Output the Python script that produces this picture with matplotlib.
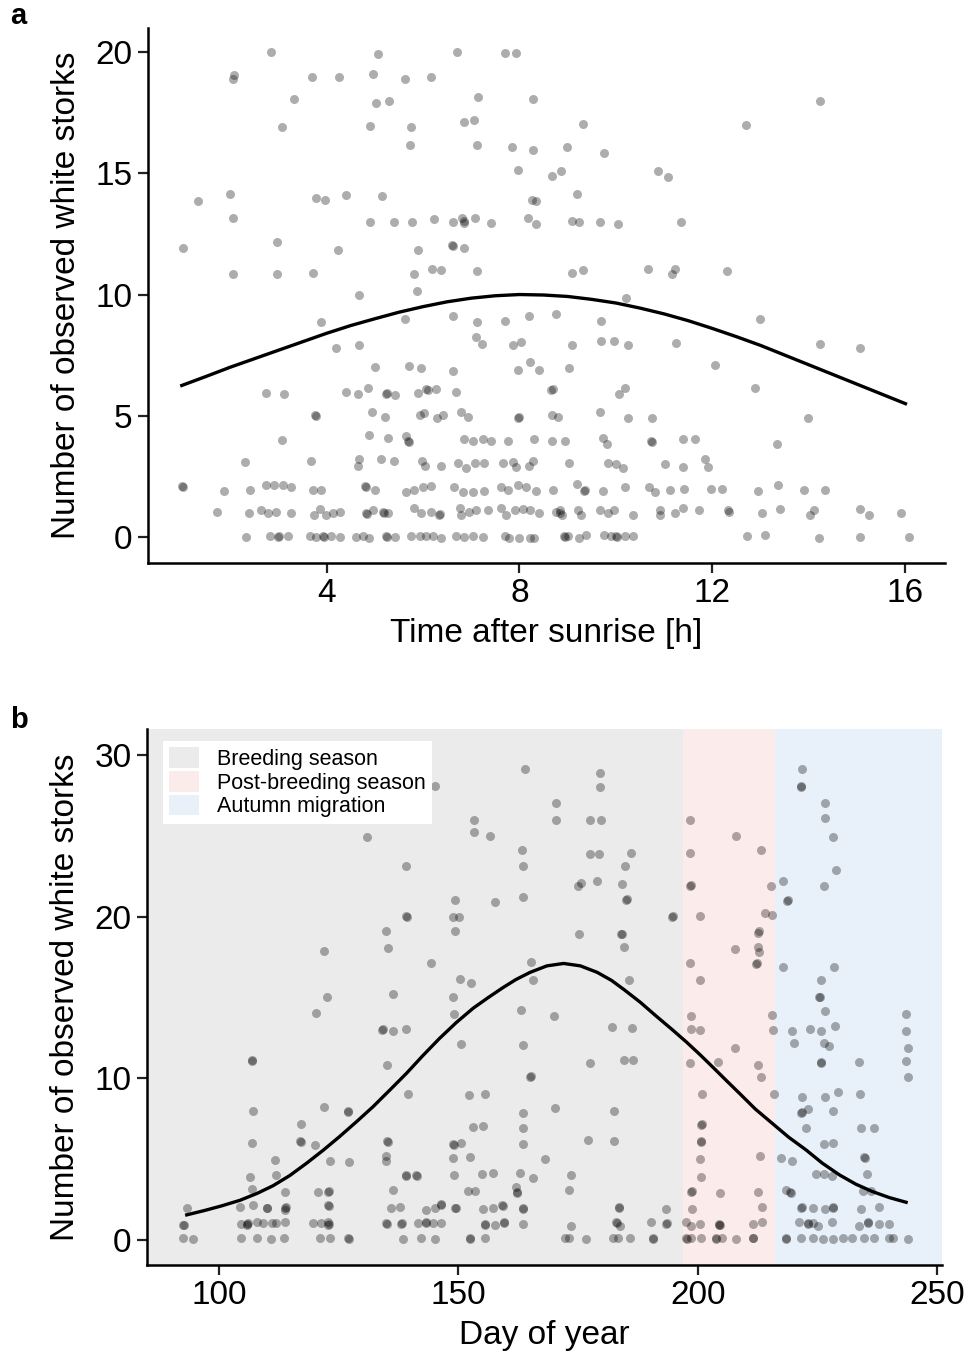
import numpy as np
import matplotlib
matplotlib.use('Agg')
import matplotlib.pyplot as plt
from matplotlib.patches import Patch

plt.rcParams['font.family'] = ['Liberation Sans', 'DejaVu Sans']

# panel a: observations vs time after sunrise
hour_a = [
    2.85, 5.07, 6.70, 7.71, 7.93, 2.09, 2.07, 3.70, 4.25, 4.96, 5.63, 6.16,
    3.33, 5.02, 5.30, 7.14, 8.27, 14.22, 3.08, 4.91, 5.76, 5.73, 6.85, 7.05,
    7.11, 7.85, 8.29, 9.31, 12.70, 8.98, 9.75, 7.97, 8.68, 8.86, 10.87, 11.08,
    1.33, 2.00, 2.07, 3.79, 3.96, 4.41, 5.15, 8.26, 8.35, 9.19,
    4.91, 5.39, 5.78, 6.23, 6.62, 6.80, 6.86, 6.84, 7.08, 7.41, 8.17, 8.35,
    9.08, 9.23, 9.66, 10.04, 11.34,
    1.02, 2.98, 4.24, 5.90, 6.63, 6.60, 6.86,
    2.07, 2.98, 3.72, 5.81, 6.18, 6.37, 7.11, 9.09, 9.31, 10.67, 11.16, 11.23, 12.31,
    4.67, 5.87, 10.20,
    3.89, 5.62, 6.63, 7.11, 7.71, 8.20, 8.75, 9.69, 12.99,
    4.19, 4.68, 7.10, 7.22, 7.86, 8.03, 9.08, 9.69, 9.96, 10.25, 11.25, 14.23, 15.05,
    5.01, 5.71, 5.95, 6.62, 7.96, 8.22, 8.41, 9.02, 12.06,
    2.74, 3.11, 4.41, 4.65, 4.85, 5.24, 5.26, 5.41, 5.89, 6.07, 6.10, 6.27, 6.69,
    8.69, 8.66, 10.07, 10.18, 12.88,
    3.77, 3.79, 4.95, 5.22, 5.93, 6.03, 6.29, 6.41, 6.79, 6.93, 7.97, 7.99, 8.68,
    8.79, 9.66, 10.24, 10.74, 13.98,
    3.08, 4.89, 5.27, 5.65, 5.68, 5.70, 6.86, 7.03, 7.24, 7.41, 7.76, 8.31, 8.68,
    8.95, 9.73, 9.82, 10.73, 10.75, 11.39, 11.63, 13.33,
    2.31, 3.68, 4.68, 4.65, 5.13, 5.39, 5.98, 6.05, 6.38, 6.72, 6.90, 7.07, 7.27,
    7.65, 7.86, 7.93, 8.20, 8.27, 9.02, 9.83, 10.00, 10.14, 11.01, 11.39, 11.84, 11.90,
    1.02, 1.00, 1.87, 2.42, 2.75, 2.92, 3.09, 3.27, 3.72, 3.89, 4.79, 4.81, 5.00,
    5.65, 5.82, 6.00, 6.17, 6.65, 6.82, 7.03, 7.27, 7.62, 7.76, 7.97, 8.14, 8.35,
    8.69, 9.19, 9.33, 9.35, 9.73, 10.18, 10.69, 10.80, 11.11, 11.40, 11.96, 12.20,
    12.95, 13.35, 13.89, 14.33,
    1.73, 2.40, 2.65, 2.78, 2.96, 3.27, 3.75, 3.86, 3.99, 4.13, 4.27, 4.82, 4.84,
    4.96, 5.17, 5.19, 5.27, 5.82, 5.96, 6.17, 6.34, 6.36, 6.76, 6.79, 6.96, 7.10,
    7.34, 7.62, 7.72, 7.90, 8.07, 8.21, 8.41, 8.76, 8.83, 8.85, 8.88, 9.21, 9.28,
    9.66, 9.83, 9.95, 10.35, 10.92, 10.92, 11.23, 11.39, 11.72, 12.32, 12.34,
    13.03, 13.40, 14.02, 14.11, 15.05, 15.25, 15.91,
    2.34, 2.82, 2.99, 3.01, 3.20, 3.65, 3.79, 3.92, 3.94, 4.10, 4.27, 4.62, 4.75,
    4.89, 5.24, 5.26, 5.41, 5.76, 5.93, 6.07, 6.20, 6.38, 6.69, 6.86, 7.03, 7.24,
    7.69, 7.79, 8.00, 8.21, 8.31, 8.93, 8.95, 9.00, 9.24, 9.37, 9.76, 9.90, 10.00,
    10.02, 10.18, 10.35, 12.71, 13.08, 14.20, 15.06, 16.08,
]
count_a = [
    20.0, 19.9, 20.0, 19.95, 19.95, 19.05, 18.9, 18.95, 18.95, 19.1, 18.9, 18.95,
    18.05, 17.9, 18.0, 18.15, 18.05, 18.0, 16.9, 16.95, 16.9, 16.15, 17.1, 17.2,
    16.15, 16.1, 15.95, 17.05, 17.0, 16.1, 15.85, 15.15, 14.9, 15.1, 15.1, 14.85,
    13.85, 14.15, 13.15, 14.0, 13.9, 14.1, 14.05, 13.9, 13.85, 14.15,
    13.0, 13.0, 13.0, 13.1, 13.0, 13.15, 13.05, 12.95, 13.15, 12.95, 13.15, 12.9,
    13.05, 13.0, 13.0, 12.9, 13.0,
    11.9, 12.15, 11.85, 11.85, 12.0, 12.05, 11.9,
    10.85, 10.85, 10.9, 10.85, 11.05, 11.0, 10.95, 10.9, 11.0, 11.05, 10.85, 11.05, 10.95,
    10.0, 10.15, 9.85,
    8.85, 9.0, 9.1, 8.85, 8.9, 9.1, 9.2, 8.9, 9.0,
    7.8, 7.9, 8.25, 7.95, 7.9, 8.05, 7.9, 8.1, 8.1, 7.9, 8.0, 7.95, 7.8,
    7.0, 7.05, 6.95, 6.85, 6.9, 7.2, 6.9, 6.95, 7.1,
    5.95, 5.9, 6.0, 5.9, 6.15, 5.9, 5.95, 5.85, 5.95, 6.1, 6.05, 6.1, 6.0,
    6.1, 6.05, 5.9, 6.15, 6.15,
    5.05, 5.0, 5.15, 4.95, 5.05, 5.1, 4.9, 5.05, 5.15, 4.95, 4.9, 4.95, 5.05,
    4.95, 5.15, 4.9, 4.9, 4.9,
    4.0, 4.2, 4.1, 4.15, 3.95, 3.9, 4.05, 3.95, 4.05, 3.95, 3.95, 4.05, 3.95,
    3.95, 4.1, 3.85, 3.95, 3.9, 4.05, 4.05, 3.85,
    3.1, 3.15, 3.2, 2.95, 3.2, 3.15, 3.15, 2.95, 2.95, 3.05, 2.85, 3.05, 3.05,
    3.05, 3.1, 2.9, 2.95, 3.15, 3.05, 3.05, 3.0, 2.85, 3.0, 2.9, 3.2, 2.9,
    2.05, 2.1, 1.9, 1.95, 2.15, 2.15, 2.15, 2.05, 1.95, 1.95, 2.1, 2.05, 1.95,
    1.85, 1.95, 2.05, 2.1, 2.05, 1.85, 1.85, 1.9, 2.05, 1.95, 2.15, 2.05, 1.9,
    1.95, 2.2, 1.9, 1.95, 1.9, 2.05, 2.05, 1.85, 1.95, 2.0, 2.0, 2.0,
    1.9, 2.15, 1.95, 1.95,
    1.05, 1.0, 1.1, 1.0, 1.05, 1.0, 0.9, 1.15, 0.9, 1.0, 1.05, 1.0, 0.95,
    1.1, 1.05, 1.0, 1.0, 1.2, 1.0, 1.05, 0.9, 0.95, 1.2, 0.9, 1.05, 1.1,
    1.1, 1.2, 0.9, 1.1, 1.15, 1.1, 1.0, 1.05, 1.1, 1.0, 0.9, 1.1, 0.9,
    1.1, 1.0, 1.1, 0.9, 1.1, 0.9, 1.0, 1.2, 1.1, 1.1, 1.05,
    1.0, 1.15, 0.9, 1.1, 1.15, 0.9, 1.0,
    0.0, 0.05, 0.0, 0.05, 0.05, 0.05, 0.0, 0.05, 0.0, 0.05, 0.0, 0.0, 0.05,
    -0.05, 0.05, 0.0, 0.0, 0.05, 0.05, 0.05, 0.05, -0.05, 0.05, 0.0, 0.05, 0.0,
    0.05, -0.05, -0.05, -0.05, -0.05, 0.05, 0.0, 0.05, -0.05, 0.1, 0.1, 0.05, 0.05,
    0.0, 0.05, 0.05, 0.05, 0.1, -0.05, 0.0, 0.0,
]
# fitted curve
curve_hour = [1, 1.5, 2, 2.5, 3, 3.5, 4, 4.5, 5, 5.5, 6, 6.5, 7, 7.5, 8, 8.5,
              9, 9.5, 10, 10.5, 11, 11.5, 12, 12.5, 13, 13.5, 14, 14.5, 15,
              15.5, 16]
curve_count_a = [6.25, 6.62, 7.0, 7.35, 7.7, 8.05, 8.4, 8.72, 9.0, 9.27, 9.5,
                 9.7, 9.85, 9.95, 10.0, 9.98, 9.92, 9.8, 9.65, 9.44, 9.2, 8.92,
                 8.6, 8.26, 7.9, 7.5, 7.1, 6.7, 6.3, 5.9, 5.5]

# panel b: observations vs day of year
day_b = [
    164.0, 170.5, 170.5, 145.1, 153.2, 153.2, 156.7, 130.9, 163.2, 163.6, 139.0,
    149.4, 157.7, 163.5, 139.0, 139.2, 148.9, 150.1, 149.4, 135.0, 135.3, 121.9,
    144.4, 165.2, 165.5, 150.4, 152.7, 122.5, 136.4, 148.9,
    179.5, 179.6, 177.4, 179.8, 177.4, 179.3, 186.1, 184.8, 175.0, 175.7, 179.0,
    184.2, 185.2, 185.0, 194.8, 194.6,
    198.3, 207.9, 213.3, 198.3, 198.4, 198.6, 215.3, 200.5, 214.1, 215.6, 212.7,
    212.5, 212.6, 212.7, 207.7, 212.3, 212.2, 198.3, 200.5,
    175.2, 184.1, 184.0, 184.6, 185.6,
    221.8, 221.6, 221.5, 226.6, 226.6, 228.3, 228.9, 217.9, 218.8, 218.7, 226.4,
    217.9, 228.5, 225.7, 225.4, 225.5,
    149.2, 120.2, 134.1, 134.2, 136.4, 139.0, 163.1, 170.0, 150.5, 163.6, 106.9,
    107.0, 135.2, 165.0, 165.1, 139.5, 152.2, 155.6, 107.2, 122.0, 126.9, 127.0,
    163.5, 170.1, 117.2, 153.1, 155.1, 163.5, 107.0, 117.0, 117.1, 120.0, 135.2,
    135.3, 134.8, 134.8, 148.9, 149.0, 150.5, 163.5, 111.7, 123.2, 127.1, 148.9,
    152.4, 168.2,
    106.6, 112.0, 139.0, 139.1, 141.2, 141.3, 149.2, 154.9, 157.2, 162.9, 165.6,
    107.0, 113.9, 120.7, 122.8, 122.9, 136.4, 152.0, 153.4, 162.0, 162.2, 162.3,
    93.3, 104.4, 107.2, 110.0, 110.1, 113.9, 114.0, 113.9, 122.8, 122.9, 136.0,
    137.8, 143.3, 145.1, 146.3, 146.4, 149.4, 149.5, 155.1, 157.2, 159.2, 159.3,
    163.5, 163.6,
    92.6, 92.7, 104.7, 105.8, 105.9, 106.0, 107.9, 109.2, 111.0, 112.0, 113.9,
    119.7, 121.4, 122.8, 122.8, 122.9, 135.0, 135.1, 138.1, 138.2, 141.6, 143.2,
    143.3, 144.7, 146.3, 155.5, 155.6, 157.6, 159.5, 159.6, 163.5,
    92.6, 94.6, 104.7, 107.9, 110.8, 113.6, 121.1, 123.2, 127.0, 127.1, 138.5,
    142.3, 145.1, 152.4, 152.5, 155.5,
    226.6, 243.5, 243.5, 244.0, 243.5, 244.0, 182.1, 186.3, 198.5, 198.6, 200.5,
    215.4, 215.8, 219.6, 223.5, 225.7, 228.6, 220.0, 226.4, 227.5, 207.7, 177.6,
    184.7, 186.4, 198.3, 204.3, 212.5, 213.2, 225.7, 225.8, 233.6, 200.8, 215.9,
    221.8, 226.6, 229.2, 233.9, 182.6, 221.6, 221.7, 223.0, 228.2, 200.7, 200.8,
    222.6, 234.1, 236.9, 177.1, 182.6, 200.6, 200.7, 226.4, 228.2, 200.5, 212.9,
    217.3, 219.7, 234.8, 234.9, 173.6, 200.6, 224.7, 226.4, 228.0, 235.3, 173.1,
    198.6, 198.7, 204.7, 212.5, 218.4, 219.3, 219.4, 234.4, 236.2,
    183.5, 183.6, 193.3, 198.7, 213.4, 221.6, 221.7, 224.0, 226.6, 228.2, 228.3,
    234.1, 237.8,
    173.6, 183.0, 183.1, 183.7, 190.3, 193.4, 193.5, 197.6, 198.6, 200.5, 204.5,
    204.6, 204.5, 211.5, 213.4, 221.2, 223.0, 223.1, 224.0, 225.1, 228.0, 233.7,
    235.5, 235.6, 237.9, 240.0,
    172.2, 173.2, 176.6, 182.3, 183.3, 185.8, 190.6, 190.7, 197.6, 197.7, 198.6,
    200.7, 203.8, 203.9, 205.1, 208.0, 211.5, 211.6, 218.4, 218.5, 221.6, 224.0,
    226.1, 228.2, 230.3, 232.3, 234.8, 236.9, 240.0, 240.7, 244.0,
]
count_b = [
    29.1, 27.0, 26.0, 28.1, 26.0, 25.2, 25.0, 24.9, 24.1, 23.1, 23.1,
    21.0, 20.9, 21.2, 20.05, 20.0, 20.0, 20.0, 19.1, 19.1, 18.05, 17.9,
    17.1, 17.2, 16.1, 16.15, 15.9, 15.05, 15.2, 15.0,
    28.9, 28.0, 26.0, 26.0, 23.9, 23.9, 23.95, 23.1, 21.9, 22.05, 22.2,
    22.0, 21.1, 21.0, 20.05, 20.0,
    26.0, 25.0, 24.1, 23.95, 21.9, 21.95, 21.9, 20.05, 20.2, 20.1, 19.1,
    19.0, 18.1, 17.8, 18.0, 17.1, 17.05, 17.1, 16.05,
    18.95, 18.95, 18.9, 18.1, 16.1,
    29.1, 28.05, 28.0, 27.0, 26.1, 24.95, 22.9, 22.2, 21.0, 20.95, 21.9,
    16.9, 16.9, 16.1, 15.05, 15.0,
    14.0, 14.05, 13.0, 13.05, 12.95, 13.05, 14.2, 13.85, 12.1, 12.05, 11.1,
    11.05, 10.85, 10.1, 10.15, 9.05, 8.95, 9.0, 7.95, 8.2, 7.95, 7.9,
    7.85, 8.15, 7.15, 7.0, 7.05, 6.9, 6.0, 6.1, 6.05, 5.9, 6.1,
    6.05, 5.2, 4.9, 5.95, 5.9, 6.0, 5.95, 4.95, 4.9, 4.85, 5.05,
    5.15, 5.0,
    3.9, 4.0, 4.0, 3.95, 4.0, 3.95, 4.0, 4.1, 4.15, 4.15, 3.85,
    3.15, 2.95, 2.95, 2.95, 3.0, 3.1, 3.0, 3.05, 3.25, 2.9, 2.95,
    1.95, 2.05, 2.15, 1.95, 2.0, 2.0, 2.05, 1.85, 2.15, 2.1, 1.95,
    2.05, 1.85, 1.95, 2.2, 2.15, 1.95, 2.0, 1.9, 2.0, 2.15, 2.1,
    1.9, 1.95,
    0.95, 0.9, 1.0, 1.0, 0.95, 1.05, 1.1, 1.05, 1.05, 1.05, 1.1,
    1.05, 1.05, 1.1, 0.95, 1.0, 1.05, 1.0, 1.0, 1.05, 1.05, 1.1,
    1.05, 1.05, 1.05, 1.0, 0.95, 0.95, 1.1, 1.05, 1.0,
    0.1, 0.05, 0.1, 0.15, 0.05, 0.1, 0.1, 0.1, 0.1, 0.05, 0.05,
    0.1, 0.05, 0.05, 0.1, 0.1,
    14.15, 13.95, 12.95, 11.9, 11.05, 10.1, 13.2, 13.1, 13.85, 13.05, 13.0,
    13.9, 13.0, 12.9, 13.05, 12.95, 13.25, 12.15, 12.2, 12.0, 11.9, 10.95,
    11.15, 11.15, 10.95, 11.0, 10.8, 10.05, 10.95, 11.0, 11.0, 9.0, 9.0,
    8.85, 8.85, 9.15, 9.0, 7.95, 7.85, 7.9, 8.1, 7.95, 7.1, 7.15,
    6.95, 6.95, 6.95, 6.15, 6.1, 6.1, 6.05, 5.95, 6.0, 5.0, 5.2,
    5.05, 4.9, 5.1, 5.05, 4.0, 3.9, 4.1, 4.05, 3.95, 4.05, 3.1,
    2.95, 3.0, 2.9, 2.95, 3.1, 2.95, 2.9, 3.0, 3.0,
    2.0, 2.05, 1.9, 1.9, 2.05, 2.0, 2.05, 2.0, 1.9, 2.0, 2.05,
    1.9, 2.05,
    0.85, 1.1, 1.05, 0.85, 1.1, 1.0, 1.05, 1.1, 0.85, 1.0, 1.0,
    0.95, 0.9, 1.0, 1.1, 1.1, 1.05, 1.0, 1.05, 0.85, 1.1, 0.85,
    1.1, 1.05, 1.0, 1.0,
    0.1, 0.1, 0.05, 0.1, 0.1, 0.1, 0.1, 0.05, 0.1, 0.05, 0.1,
    0.1, 0.1, 0.05, 0.1, 0.05, 0.15, 0.1, 0.1, 0.05, 0.1, 0.1,
    0.05, 0.05, 0.15, 0.1, 0.1, 0.1, 0.1, 0.1, 0.05,
]
# fitted curve
curve_day = [93.3, 97.0, 100.5, 104.4, 108.0, 111.3, 114.8, 118.3, 121.8,
             125.2, 128.7, 132.2, 135.7, 139.2, 142.6, 146.1, 149.6, 153.1,
             156.2, 159.3, 162.0, 165.0, 168.5, 172.0, 175.5, 179.0, 182.0,
             184.7, 188.0, 191.3, 194.5, 197.6, 200.5, 203.1, 206.0, 208.7,
             212.0, 215.6, 219.0, 222.6, 226.0, 229.6, 233.0, 236.5, 240.0,
             243.5]
curve_count_b = [1.55, 1.82, 2.1, 2.45, 2.88, 3.35, 3.98, 4.74, 5.55,
                 6.39, 7.3, 8.24, 9.27, 10.31, 11.4, 12.47, 13.45, 14.33,
                 14.98, 15.6, 16.1, 16.55, 16.95, 17.1, 16.95, 16.55, 16.05,
                 15.46, 14.7, 13.85, 13.05, 12.25, 11.45, 10.7, 9.85, 9.07,
                 8.1, 7.2, 6.35, 5.57, 4.75, 4.02, 3.45, 2.99, 2.62,
                 2.33]

seasons = ['Breeding season', 'Post-breeding season', 'Autumn migration']
season_start = [85, 197, 216.2]
season_end = [197, 216.2, 251]
season_colors = ['#ebebeb', '#fcebeb', '#e8f1f9']

W, H = 974, 1359
fig = plt.figure(figsize=(W / 100, H / 100), dpi=100)
FS = 24


def style(ax):
    for s in ['top', 'right']:
        ax.spines[s].set_visible(False)
    for s in ['left', 'bottom']:
        ax.spines[s].set_linewidth(1.8)
    ax.tick_params(width=1.6, length=7, labelsize=FS, pad=4, color='#222222')


ax1 = fig.add_axes([148 / W, 1 - 563 / H, (945 - 148) / W, (563 - 28) / H])
ax1.scatter(hour_a, count_a, s=42, color='black', alpha=0.32, linewidths=0)
ax1.plot(curve_hour, curve_count_a, color='black', lw=2.4)
ax1.set_xlim(0.3, 16.82)
ax1.set_ylim(-1.07, 20.99)
ax1.set_xticks([4, 8, 12, 16])
ax1.set_yticks([0, 5, 10, 15, 20])
ax1.set_xlabel('Time after sunrise [h]', fontsize=FS, labelpad=6)
ax1.set_ylabel('Number of observed white storks', fontsize=FS, labelpad=10)
style(ax1)

ax2 = fig.add_axes([147 / W, 1 - 1265 / H, (942 - 147) / W, (1265 - 729) / H])
for x0, x1, c in zip(season_start, season_end, season_colors):
    ax2.axvspan(x0, x1, color=c, lw=0, zorder=0)
ax2.scatter(day_b, count_b, s=42, color='black', alpha=0.32, linewidths=0, zorder=2)
ax2.plot(curve_day, curve_count_b, color='black', lw=2.4, zorder=3)
ax2.set_xlim(85, 251)
ax2.set_ylim(-1.55, 31.6)
ax2.set_xticks([100, 150, 200, 250])
ax2.set_yticks([0, 10, 20, 30])
ax2.set_xlabel('Day of year', fontsize=FS, labelpad=6)
ax2.set_ylabel('Number of observed white storks', fontsize=FS, labelpad=10)
style(ax2)

handles = [Patch(facecolor=c, edgecolor='none') for c in season_colors]
leg = ax2.legend(handles, seasons, loc='upper left', bbox_to_anchor=(0.02, 0.978),
                 fontsize=15.5, frameon=True, fancybox=False, framealpha=1,
                 edgecolor='none', facecolor='white', handlelength=1.4,
                 handleheight=1.1, handletextpad=0.8, labelspacing=0.05,
                 borderpad=0.3, borderaxespad=0)
leg.set_zorder(5)

fig.text(10 / W, 1 - 24 / H, 'a', fontsize=21, fontweight='bold')
fig.text(10 / W, 1 - 728 / H, 'b', fontsize=21, fontweight='bold')

fig.savefig('out.png', dpi=100)
